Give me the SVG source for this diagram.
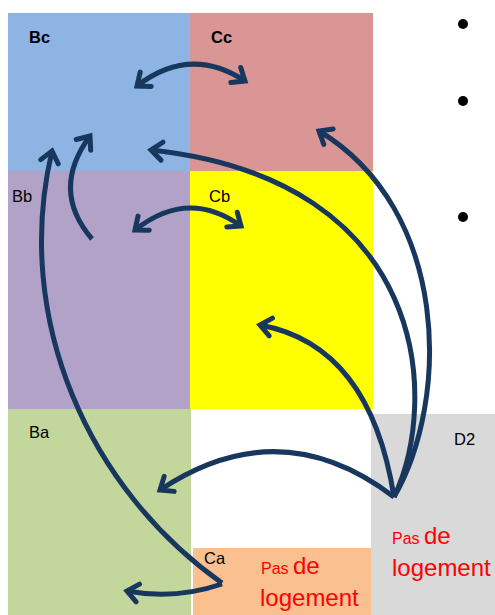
<svg xmlns="http://www.w3.org/2000/svg" width="495" height="615" viewBox="0 0 495 615">
<style>
.lbl{font-family:"Liberation Sans",Arial,sans-serif;font-size:16.5px;fill:#000}
.b{font-weight:bold}
.red{font-family:"Liberation Sans",Arial,sans-serif;fill:#FF0000}
.arr{fill:none;stroke:#17375E;stroke-width:5;stroke-linecap:butt}
</style>
<defs>
<marker id="ah" viewBox="-16 -12 24 24" refX="0" refY="0" markerWidth="24" markerHeight="24" markerUnits="userSpaceOnUse" orient="auto-start-reverse">
<path d="M -11,-9 L 0,0 L -11,9" fill="none" stroke="#17375E" stroke-width="5" stroke-linecap="round" stroke-linejoin="miter"/>
</marker>
</defs>
<rect width="495" height="615" fill="#FFFFFF"/>
<g id="Bc"><rect x="8" y="13" width="182" height="158" fill="#8EB4E3"/><text class="lbl b" x="29" y="43">Bc</text></g>
<g id="Cc"><rect x="190" y="13" width="183" height="158" fill="#D99694"/><text class="lbl b" x="211" y="43">Cc</text></g>
<g id="Bb"><rect x="8" y="171" width="182" height="238" fill="#B3A2C7"/><text class="lbl" x="12" y="202">Bb</text></g>
<g id="Cb"><rect x="190" y="171" width="183" height="238" fill="#FFFF00"/><text class="lbl" x="209" y="202">Cb</text></g>
<g id="Ba"><rect x="8" y="409" width="183" height="206" fill="#C3D69B"/><text class="lbl" x="29" y="438">Ba</text></g>
<g id="Ca"><rect x="193" y="548" width="179" height="67" fill="#FAC090"/><text class="lbl" x="204" y="564">Ca</text>
<text class="red" x="261" y="574"><tspan font-size="16">Pas </tspan><tspan font-size="24">de</tspan></text>
<text class="red" x="260" y="606" font-size="24">logement</text></g>
<g id="D2"><rect x="371" y="414" width="124" height="201" fill="#D9D9D9"/><text class="lbl" x="454" y="445">D2</text>
<text class="red" x="392" y="544"><tspan font-size="16">Pas </tspan><tspan font-size="24">de</tspan></text>
<text class="red" x="392" y="576" font-size="24">logement</text></g>
<g id="bullets" fill="#000"><circle cx="463" cy="24" r="5"/><circle cx="463" cy="101" r="5"/><circle cx="463" cy="217" r="5"/></g>
<g id="connectors" class="arr">
<path class="arr" d="M 137,86 Q 190,45 245,81" marker-start="url(#ah)" marker-end="url(#ah)"/>
<path class="arr" d="M 135,230 Q 188,188 241,226" marker-start="url(#ah)" marker-end="url(#ah)"/>
<path class="arr" d="M 92,239 Q 50,190 90,136" marker-end="url(#ah)"/>
<path class="arr" d="M 222,583 C 90,490 12,320 52,151" marker-end="url(#ah)"/>
<path class="arr" d="M 222,584 Q 175,600 127,591" marker-end="url(#ah)"/>
<path class="arr" d="M 394,497 Q 280,410 160,490" marker-end="url(#ah)"/>
<path class="arr" d="M 394,497 Q 370,345 260,325" marker-end="url(#ah)"/>
<path class="arr" d="M 394,497 C 440,400 430,180 151,150" marker-end="url(#ah)"/>
<path class="arr" d="M 394,497 C 450,400 450,210 319,131" marker-end="url(#ah)"/>
</g>
</svg>
